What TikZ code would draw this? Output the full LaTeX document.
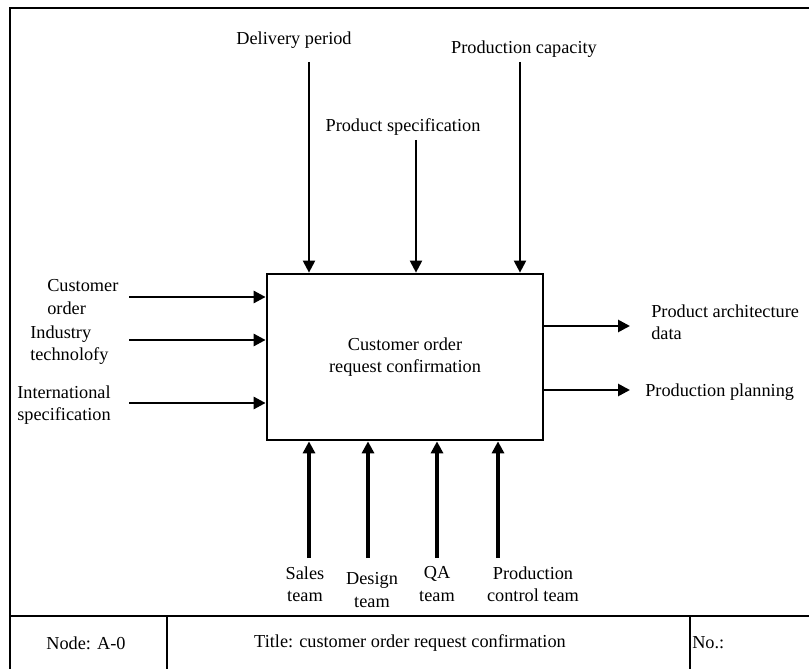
\documentclass[tikz,border=0pt]{standalone}
\usepackage{fontspec}
\setmainfont{Liberation Serif}
\usetikzlibrary{arrows.meta,positioning}

\begin{document}
\begin{tikzpicture}[
  x=0.025cm, y=-0.025cm,
  txt/.style={align=center, inner sep=0pt, font=\fontsize{13}{16}\selectfont},
  txtleft/.style={txt, align=left, anchor=west},
  process/.style={draw, line width=1.9pt, minimum width=6.9cm, minimum height=4.15cm, align=center, font=\fontsize{13}{16}\selectfont},
  flow/.style={-{Triangle[length=3mm, width=3mm]}, line width=1.9pt},
  mech/.style={flow, line width=2.3pt},
  ctrl/.style={flow, line width=1.5pt},
  frame/.style={line width=1.9pt}
]
  \useasboundingbox (0,0) rectangle (809,669);
  % form frame and title row
  \draw[frame] (10,669) -- (10,8) -- (809,8);
  \draw[frame] (10,616) -- (809,616);
  \draw[frame] (167,616) -- (167,669);
  \draw[frame] (690,616) -- (690,669);
  \node[txt] (nodeno) at (86,643) {Node: A-0};
  \node[txt] (title) at (410,643) {Title: customer order request confirmation};
  \node[txtleft] (number) at (692,643) {No.:};

  \node[process] (box) at (405,357) {Customer order\\request confirmation};

  % controls
  \node[txt] (delivery) at (294,40) {Delivery period};
  \node[txt] (capacity) at (524,49) {Production capacity};
  \node[txt] (spec) at (403,127) {Product specification};
  \coordinate (deliveryIn) at (309,62);
  \coordinate (specIn) at (416,140);
  \coordinate (capacityIn) at (520,62);
  \draw[ctrl] (deliveryIn) -- (deliveryIn |- box.north);
  \draw[ctrl] (specIn) -- (specIn |- box.north);
  \draw[ctrl] (capacityIn) -- (capacityIn |- box.north);

  % inputs
  \node[txtleft] (order) at (47,297) {Customer\\order};
  \node[txtleft] (industry) at (30,345) {Industry\\technolofy};
  \node[txtleft] (intl) at (17,405) {International\\specification};
  \coordinate (orderIn) at (129,297);
  \coordinate (industryIn) at (129,340);
  \coordinate (intlIn) at (129,403);
  \draw[flow] (orderIn) -- (orderIn -| box.west);
  \draw[flow] (industryIn) -- (industryIn -| box.west);
  \draw[flow] (intlIn) -- (intlIn -| box.west);

  % outputs
  \node[txtleft] (archdata) at (651,322) {Product architecture\\data};
  \node[txtleft] (planning) at (645,392) {Production planning};
  \coordinate (archOut) at (630,326);
  \coordinate (planOut) at (630,390);
  \draw[flow] (archOut -| box.east) -- (archOut);
  \draw[flow] (planOut -| box.east) -- (planOut);

  % mechanisms
  \node[txt] (sales) at (305,584) {Sales\\team};
  \node[txt] (design) at (372,590) {Design\\team};
  \node[txt] (qa) at (437,584) {QA\\team};
  \node[txt] (prodctrl) at (533,584) {Production\\control team};
  \coordinate (salesIn) at (309,558);
  \coordinate (designIn) at (368,558);
  \coordinate (qaIn) at (437,558);
  \coordinate (prodctrlIn) at (498,558);
  \draw[mech] (salesIn) -- (salesIn |- box.south);
  \draw[mech] (designIn) -- (designIn |- box.south);
  \draw[mech] (qaIn) -- (qaIn |- box.south);
  \draw[mech] (prodctrlIn) -- (prodctrlIn |- box.south);
\end{tikzpicture}
\end{document}
